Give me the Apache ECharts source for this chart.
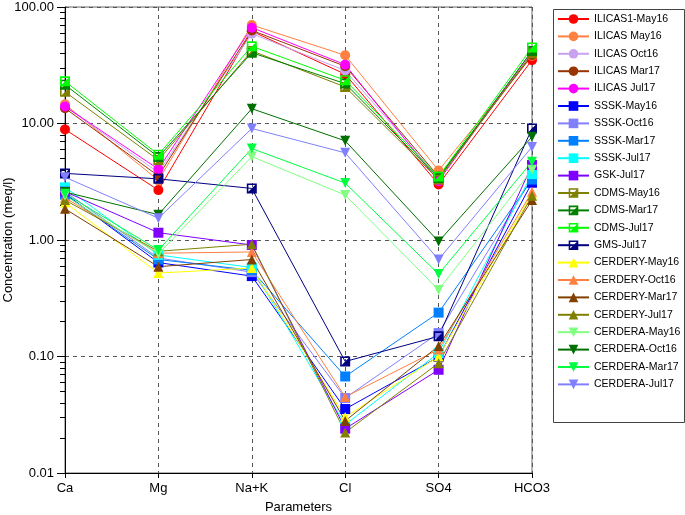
<!DOCTYPE html>
<html><head><meta charset="utf-8">
<script src="https://cdn.jsdelivr.net/npm/echarts@6/dist/echarts.min.js"></script>
<style>html,body{margin:0;padding:0;background:#fff}#c{width:685px;height:515px}</style>
</head><body><div id="c"></div>
<script>
const categories = ['Ca','Mg','Na+K','Cl','SO4','HCO3'];
const yTickLabels = ['0.01','0.10','1.00','10.00','100.00'];
const minorTickValues = [0.02,0.03,0.04,0.05,0.06,0.07,0.08,0.09,0.2,0.3,0.4,0.5,0.6,0.7,0.8,0.9,2,3,4,5,6,7,8,9,20,30,40,50,60,70,80,90];

const ilicas1May16 = [8.9, 2.68, 62, 26.5, 3.0, 35];
const ilicasMay16  = [14.6, 3.25, 70, 38.5, 3.95, 38];
const ilicasOct16  = [14.0, 3.8, 59, 28.5, 3.4, 40];
const ilicasMar17  = [13.5, 3.55, 63, 31, 3.5, 38.5];
const ilicasJul17  = [14.0, 4.06, 66.5, 32, 3.2, 42];
const ssskMay16    = [2.5, 0.64, 0.49, 0.0354, 0.099, 3.1];
const ssskOct16    = [2.6, 0.70, 0.53, 0.044, 0.159, 3.4];
const ssskMar17    = [2.45, 0.68, 0.55, 0.0674, 0.238, 3.3];
const ssskJul17    = [2.83, 0.744, 0.58, 0.026, 0.107, 3.68];
const gskJul17     = [2.6, 1.155, 0.906, 0.024, 0.0769, 4.4];
const cdmsMay16    = [18.7, 4.85, 42, 20.6, 3.3, 40];
const cdmsMar17    = [21.5, 5.15, 40.5, 22, 3.4, 42];
const cdmsJul17    = [23, 5.4, 46, 23.5, 3.5, 45];
const gmsJul17     = [3.73, 3.35, 2.77, 0.0906, 0.149, 9.06];
const cerderyMay16 = [2.1, 0.52, 0.575, 0.0302, 0.1, 2.5];
const cerderyOct16 = [2.3, 0.77, 0.79, 0.045, 0.115, 2.6];
const cerderyMar17 = [1.85, 0.59, 0.68, 0.028, 0.123, 2.2];
const cerderyJul17 = [2.2, 0.80, 0.92, 0.0223, 0.0877, 2.4];
const cerderaMay16 = [2.4, 0.76, 5.2, 2.43, 0.373, 4.0];
const cerderaOct16 = [2.58, 1.65, 13.4, 7.1, 0.97, 7.68];
const cerderaMar17 = [2.5, 0.82, 6.1, 3.08, 0.51, 4.7];
const cerderaJul17 = [3.46, 1.54, 9.06, 5.6, 0.68, 6.3];

const HALF = 'path://M0,0L10,0L10,10L0,10Z M1.6,1.6L1.6,8.4L8.4,8.4L8.4,1.6Z M8.4,1.6L8.4,8.4L1.6,8.4Z';

const seriesDefs = [
  ['ILICAS1-May16', ilicas1May16, '#FF0000', 'circle', 0],
  ['ILICAS May16', ilicasMay16, '#FF8040', 'circle', 0],
  ['ILICAS Oct16', ilicasOct16, '#C8A2F0', 'circle', 0],
  ['ILICAS Mar17', ilicasMar17, '#993300', 'circle', 0],
  ['ILICAS Jul17', ilicasJul17, '#FF00FF', 'circle', 0],
  ['SSSK-May16', ssskMay16, '#0000FF', 'rect', 0],
  ['SSSK-Oct16', ssskOct16, '#8080FF', 'rect', 0],
  ['SSSK-Mar17', ssskMar17, '#0080FF', 'rect', 0],
  ['SSSK-Jul17', ssskJul17, '#00FFFF', 'rect', 0],
  ['GSK-Jul17', gskJul17, '#8000FF', 'rect', 0],
  ['CDMS-May16', cdmsMay16, '#808000', HALF, 0],
  ['CDMS-Mar17', cdmsMar17, '#008000', HALF, 0],
  ['CDMS-Jul17', cdmsJul17, '#00FF00', HALF, 0],
  ['GMS-Jul17', gmsJul17, '#000080', HALF, 0],
  ['CERDERY-May16', cerderyMay16, '#FFFF00', 'triangle', 0],
  ['CERDERY-Oct16', cerderyOct16, '#FF8040', 'triangle', 0],
  ['CERDERY-Mar17', cerderyMar17, '#804000', 'triangle', 0],
  ['CERDERY-Jul17', cerderyJul17, '#808000', 'triangle', 0],
  ['CERDERA-May16', cerderaMay16, '#80FF80', 'triangle', 180],
  ['CERDERA-Oct16', cerderaOct16, '#007000', 'triangle', 180],
  ['CERDERA-Mar17', cerderaMar17, '#00FF40', 'triangle', 180],
  ['CERDERA-Jul17', cerderaJul17, '#8080FF', 'triangle', 180]
];

const FONT = '"Liberation Sans", Arial, Helvetica, sans-serif';
const series = seriesDefs.map(d => ({
  name: d[0], type: 'line', data: d[1],
  symbol: d[3], symbolRotate: d[4], symbolSize: 10,
  itemStyle: {color: d[2]},
  lineStyle: {color: d[2], width: 1},
  animation: false, z: 3
}));

const chart = echarts.init(document.getElementById('c'), null, {renderer: 'canvas'});
chart.setOption({
  backgroundColor: '#fff',
  textStyle: {fontFamily: FONT},
  grid: {left: 65, right: 153, top: 7, bottom: 42, containLabel: false, outerBoundsMode: 'none',
    show: true, borderColor: '#666', borderWidth: 1},
  legend: {
    data: seriesDefs.map(d => d[0]),
    orient: 'vertical', left: 557, top: 13, padding: 0,
    itemWidth: 31, itemHeight: 12, itemGap: 5.4,
    textStyle: {fontFamily: FONT, fontSize: 10.5, color: '#000', lineHeight: 12},
    selectedMode: false
  },
  graphic: [{type: 'rect', left: 551, top: 7, shape: {width: 131, height: 413},
    style: {fill: 'none', stroke: '#444', lineWidth: 1}, silent: true}],
  xAxis: {
    type: 'category', data: categories, boundaryGap: false,
    name: 'Parameters', nameLocation: 'middle', nameGap: 28,
    nameTextStyle: {fontFamily: FONT, fontSize: 13, color: '#000'},
    axisLine: {lineStyle: {color: '#000', width: 1}},
    axisTick: {show: true, length: 5, lineStyle: {color: '#000'}},
    axisLabel: {fontFamily: FONT, fontSize: 13, color: '#000', margin: 9},
    splitLine: {show: true, lineStyle: {color: '#555', type: [4, 4], width: 1}}
  },
  yAxis: [{
    type: 'log', logBase: 10, min: 0.01, max: 100,
    name: 'Concentration (meq/l)', nameLocation: 'middle', nameGap: 50, nameMoveOverlap: false,
    nameTextStyle: {fontFamily: FONT, fontSize: 13, color: '#000'},
    axisLine: {show: true, lineStyle: {color: '#000', width: 1}},
    axisTick: {show: true, length: 8, lineStyle: {color: '#000'}},
    axisLabel: {fontFamily: FONT, fontSize: 13, color: '#000', margin: 11,
      formatter: function (v) {
        const e = Math.round(Math.log10(v));
        return yTickLabels[e + 2] !== undefined ? yTickLabels[e + 2] : v.toFixed(2);
      }},
    splitLine: {show: true, lineStyle: {color: '#555', type: [4, 4], width: 1}}
  }, {
    type: 'log', logBase: 10, min: 0.01, max: 100, position: 'left', offset: 0,
    axisLine: {show: false},
    axisTick: {show: true, length: 5, customValues: minorTickValues, lineStyle: {color: '#000'}},
    axisLabel: {show: false},
    splitLine: {show: false}
  }],
  series: series
});
</script></body></html>
